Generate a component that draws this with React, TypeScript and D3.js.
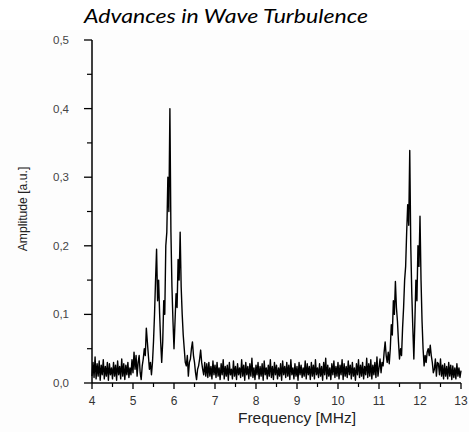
import React from "react";
import * as d3 from "d3";

const title = "Advances in Wave Turbulence";
const xLabel = "Frequency [MHz]";
const yLabel = "Amplitude [a.u.]";
const freqStart = 4;
const freqStep = 0.025;
const xTicks = [4, 5, 6, 7, 8, 9, 10, 11, 12, 13];
const yTicks = [0, 0.1, 0.2, 0.3, 0.4, 0.5];

// 4.000 – 5.000 MHz
const ampLowBand = [
  0.010, 0.030, 0.008, 0.038, 0.006, 0.028, 0.010, 0.032, 0.004, 0.026,
  0.012, 0.034, 0.006, 0.024, 0.010, 0.030, 0.004, 0.028, 0.012, 0.022,
  0.006, 0.030, 0.010, 0.026, 0.004, 0.032, 0.012, 0.024, 0.006, 0.035,
  0.010, 0.028, 0.005, 0.026, 0.012, 0.030, 0.008, 0.022, 0.012, 0.034,
  0.015,
];
// 5.025 – 7.000 MHz (first resonance)
const ampPeak1 = [
  0.045, 0.020, 0.040, 0.010, 0.030, 0.040, 0.015, 0.005, 0.025, 0.035,
  0.050, 0.040, 0.080, 0.060, 0.040, 0.020, 0.030, 0.012, 0.030, 0.060,
  0.100, 0.150, 0.195, 0.120, 0.150, 0.100, 0.060, 0.030, 0.060, 0.120,
  0.100, 0.200, 0.220, 0.300, 0.250, 0.400, 0.220, 0.140, 0.090, 0.050,
  0.090, 0.130, 0.110, 0.180, 0.150, 0.220, 0.140, 0.100, 0.070, 0.050,
  0.030, 0.025, 0.040, 0.010, 0.030, 0.035, 0.050, 0.060, 0.040, 0.030,
  0.015, 0.005, 0.020, 0.025, 0.035, 0.048, 0.030, 0.020, 0.012, 0.030,
  0.010, 0.028, 0.008, 0.030, 0.010, 0.024, 0.006, 0.032, 0.012, 0.026,
];
// 7.025 – 11.000 MHz
const ampMidBand = [
  0.008, 0.030, 0.010, 0.022, 0.005, 0.028, 0.012, 0.034, 0.006, 0.024,
  0.010, 0.026, 0.004, 0.030, 0.012, 0.020, 0.006, 0.032, 0.010, 0.024,
  0.005, 0.028, 0.012, 0.022, 0.008, 0.034, 0.010, 0.026, 0.004, 0.030,
  0.012, 0.024, 0.006, 0.028, 0.010, 0.036, 0.008, 0.022, 0.005, 0.026,
  0.012, 0.030, 0.006, 0.024, 0.010, 0.028, 0.004, 0.032, 0.012, 0.022,
  0.006, 0.026, 0.010, 0.034, 0.008, 0.024, 0.005, 0.030, 0.012, 0.026,
  0.006, 0.022, 0.010, 0.028, 0.004, 0.032, 0.012, 0.024, 0.008, 0.030,
  0.010, 0.026, 0.005, 0.034, 0.012, 0.022, 0.006, 0.028, 0.010, 0.024,
  0.004, 0.030, 0.012, 0.026, 0.008, 0.022, 0.010, 0.032, 0.006, 0.028,
  0.012, 0.024, 0.005, 0.030, 0.010, 0.026, 0.006, 0.034, 0.012, 0.022,
  0.008, 0.028, 0.010, 0.024, 0.004, 0.030, 0.012, 0.036, 0.006, 0.026,
  0.010, 0.022, 0.005, 0.028, 0.012, 0.032, 0.008, 0.024, 0.010, 0.030,
  0.006, 0.026, 0.012, 0.034, 0.005, 0.028, 0.010, 0.024, 0.008, 0.032,
  0.012, 0.026, 0.006, 0.030, 0.010, 0.022, 0.004, 0.028, 0.012, 0.034,
  0.008, 0.026, 0.010, 0.030, 0.006, 0.024, 0.012, 0.036, 0.008, 0.028,
  0.010, 0.034, 0.006, 0.026, 0.012, 0.030, 0.008, 0.038, 0.010, 0.022,
];
// 11.025 – 13.000 MHz (second resonance)
const ampPeak2 = [
  0.035, 0.015, 0.030, 0.025, 0.045, 0.060, 0.040, 0.030, 0.045, 0.028,
  0.050, 0.085, 0.070, 0.120, 0.100, 0.148, 0.110, 0.090, 0.060, 0.035,
  0.050, 0.040, 0.080, 0.110, 0.150, 0.170, 0.220, 0.260, 0.230, 0.339,
  0.200, 0.130, 0.080, 0.035, 0.090, 0.150, 0.120, 0.200, 0.170, 0.243,
  0.150, 0.090, 0.050, 0.025, 0.040, 0.030, 0.045, 0.050, 0.040, 0.055,
  0.040, 0.030, 0.015, 0.020, 0.035, 0.010, 0.030, 0.028, 0.012, 0.035,
  0.010, 0.026, 0.006, 0.028, 0.010, 0.024, 0.006, 0.030, 0.010, 0.026,
  0.005, 0.025, 0.008, 0.022, 0.006, 0.028, 0.010, 0.022, 0.008, 0.018,
];

const amplitude = [...ampLowBand, ...ampPeak1, ...ampMidBand, ...ampPeak2];

export default function App() {
  const W = 469, H = 432;
  const x = d3.scaleLinear().domain([4, 13]).range([92, 461]);
  const y = d3.scaleLinear().domain([0, 0.5]).range([383, 40]);
  const pts: [number, number][] = amplitude.map((v, i) => [freqStart + i * freqStep, v]);
  const line = d3.line<[number, number]>().x(d => x(d[0])).y(d => y(d[1]));
  const xMinor = d3.range(4.5, 13, 1);
  const yMinor = d3.range(0.05, 0.5, 0.1);
  const fmt = (v: number) => v.toFixed(1).replace(".", ",");
  const sans = "'Liberation Sans', Arial, sans-serif";
  return (
    <svg width={W} height={H} style={{ position: "absolute", left: 0, top: 0 }}>
      <rect x={0} y={0} width={W} height={H} fill="#ffffff" />
      <rect x={0} y={30} width={W} height={H - 30} fill="#fdfdfd" />
      <text x={84} y={23} fontFamily="Lato, 'Open Sans', sans-serif" fontStyle="italic" fontSize={19.5}
        textLength={284} lengthAdjust="spacingAndGlyphs" fill="#000">{title}</text>
      <path d={line(pts) || ""} fill="none" stroke="#000" strokeWidth={1.4} strokeLinejoin="round" />
      <line x1={92} x2={92} y1={y(0.5)} y2={y(0)} stroke="#000" strokeWidth={1.5} />
      <line x1={92} x2={461} y1={383} y2={383} stroke="#000" strokeWidth={1.5} />
      {yTicks.map(t => (
        <g key={"y" + t}>
          <line x1={84} x2={92} y1={y(t)} y2={y(t)} stroke="#000" strokeWidth={1.3} />
          <text x={69} y={y(t) + 4} textAnchor="end" fontFamily={sans}
            fontSize={11.5} fill="#444">{fmt(t)}</text>
        </g>
      ))}
      {yMinor.map(t => (
        <line key={"ym" + t} x1={87} x2={92} y1={y(t)} y2={y(t)} stroke="#000" strokeWidth={1.2} />
      ))}
      {xTicks.map(t => (
        <g key={"x" + t}>
          <line x1={x(t)} x2={x(t)} y1={383} y2={389} stroke="#000" strokeWidth={1.3} />
          <text x={x(t)} y={405} textAnchor="middle" fontFamily={sans}
            fontSize={12} fill="#333">{t}</text>
        </g>
      ))}
      {xMinor.map(t => (
        <line key={"xm" + t} x1={x(t)} x2={x(t)} y1={383} y2={387} stroke="#000" strokeWidth={1.2} />
      ))}
      <text x={297} y={423} textAnchor="middle" fontFamily={sans}
        fontSize={15.5} fill="#222">{xLabel}</text>
      <text transform={`translate(27,209) rotate(-90)`} textAnchor="middle"
        fontFamily={sans} fontSize={12.2} fill="#222">{yLabel}</text>
    </svg>
  );
}
